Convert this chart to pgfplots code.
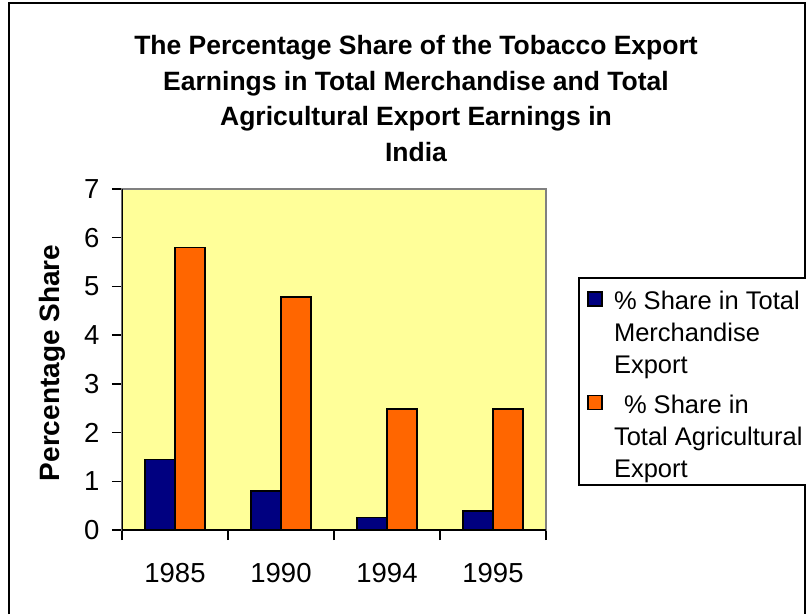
\documentclass[border=0pt]{standalone}
\usepackage{fontspec}
\setmainfont{Liberation Sans}
\usepackage{pgfplots}
\pgfplotsset{compat=1.18}
\definecolor{plotbg}{RGB}{255,255,153}
\definecolor{navybar}{RGB}{0,0,128}
\definecolor{orangebar}{RGB}{255,102,0}
\definecolor{framegray}{RGB}{128,128,128}
\pgfplotsset{
  /pgfplots/ybar legend/.style={
    /pgfplots/legend image code/.code={
      \path[draw=none,fill=none] (0pt,0pt) -- (35pt,0pt);
      \draw[##1,draw=black,line width=1.5pt] (9pt,68pt) rectangle (23pt,82pt);
    }
  }
}
\begin{document}
\begin{tikzpicture}[x=1pt,y=1pt]
\useasboundingbox (0,0) rectangle (806,-614);
\draw[line width=2pt] (9,-614) -- (9,-3) -- (805,-3) -- (805,-614);
\node[font=\bfseries\fontsize{26.5}{35.5}\selectfont, align=center, anchor=base] at (416,-161)
  {The Percentage Share of the Tobacco Export\\Earnings in Total Merchandise and Total\\Agricultural Export Earnings in\\India};
\begin{axis}[
  at={(122pt,-530pt)}, anchor=south west,
  scale only axis, width=424pt, height=341pt,
  xmin=-0.5, xmax=3.5, ymin=0, ymax=7,
  ytick={0,1,2,3,4,5,6,7},
  xtick={-0.5,0.5,1.5,2.5,3.5}, xticklabels={},
  extra x ticks={0,1,2,3},
  extra x tick labels={1985,1990,1994,1995},
  extra x tick style={major tick length=0pt, xticklabel style={yshift=-30pt}},
  tick align=outside, major tick length=10pt, tick pos=left,
  tick style={black, line width=1.5pt},
  x tick label style={font=\fontsize{27.5}{33}\selectfont},
  y tick label style={font=\fontsize{27.5}{33}\selectfont, xshift=-9pt},
  /pgf/number format/assume math mode=true,
  axis background/.style={fill=plotbg},
  axis line style={draw=framegray, line width=1.5pt},
  ylabel={Percentage Share},
  ylabel style={font=\bfseries\fontsize{28}{33}\selectfont, at={(axis description cs:-0.165,0.49)}, anchor=center},
  ybar=0pt, bar width=30pt,
  legend style={at={(axis description cs:1.0755,0.742)}, anchor=north west,
    draw=black, line width=2pt, fill=white, inner xsep=0pt, inner ysep=6pt,
    font=\fontsize{25.5}{32}\selectfont,
    nodes={inner sep=0pt}, row sep=1pt,
    cells={anchor=base west, align=left}},
]
\addplot[fill=navybar, draw=black, line width=1.5pt] coordinates {(0,1.45) (1,0.80) (2,0.26) (3,0.39)};
\addplot[fill=orangebar, draw=black, line width=1.5pt] coordinates {(0,5.80) (1,4.78) (2,2.48) (3,2.48)};
\legend{{\rule{0pt}{26pt}\% Share in Total\\Merchandise\\Export},{\rule{0pt}{37pt}\hspace*{10pt}\% Share in\\Total Agricultural\kern16pt\relax\\Export}}
\draw[black, line width=2pt] (rel axis cs:0,1) -- (rel axis cs:0,0) -- (rel axis cs:1,0);
\end{axis}
\end{tikzpicture}
\end{document}
